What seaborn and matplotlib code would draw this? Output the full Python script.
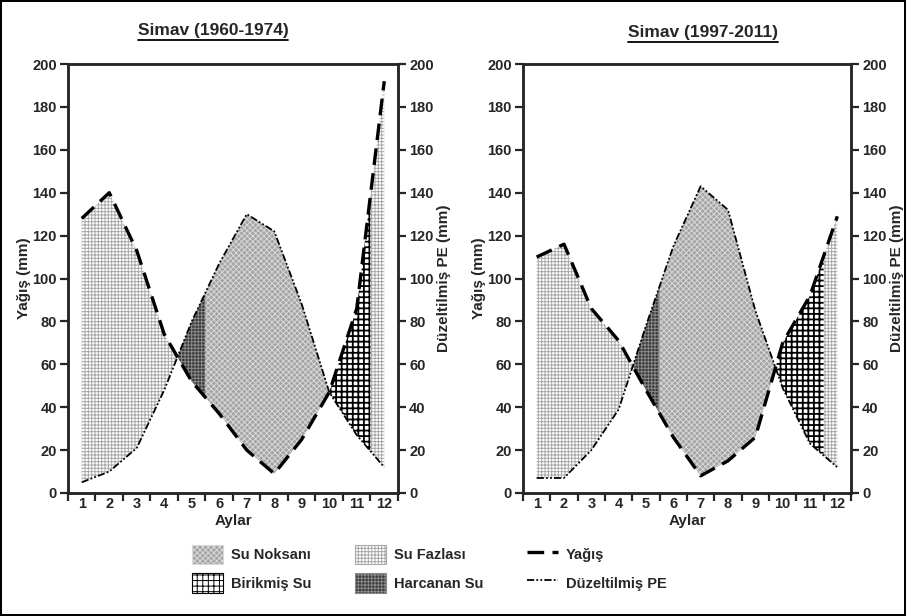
import numpy as np
import pandas as pd
import matplotlib.pyplot as plt
import seaborn as sns
from matplotlib.patches import Patch
from matplotlib.lines import Line2D

months = list(range(1, 13))

# Simav (1960-1974)
p_old = [128, 140, 113, 74, 52, 37, 20, 9, 25, 47, 86, 192]
pe_old = [5, 10, 21, 48, 80, 107, 130, 122, 88, 47, 27, 12]

# Simav (1997-2011)
p_new = [110, 116, 86, 71, 48, 26, 8, 15, 26, 70, 92, 129]
pe_new = [7, 7, 20, 39, 78, 115, 143, 132, 85, 49, 23, 12]

# kullanilan suyun bittigi ay / birikmenin bittigi ay
harcanan_end = 5.5
birikmis_end = 11.5

sns.set_style("ticks")
plt.rcParams['font.family'] = ['Liberation Sans', 'DejaVu Sans']
plt.rcParams['font.weight'] = 'bold'
plt.rcParams['hatch.linewidth'] = 0.7

styles = {
    'Su Noksanı': dict(facecolor='#a4a4a4', edgecolor='#d8d8d8', hatch='xxxxxx'),
    'Su Fazlası': dict(facecolor='white', edgecolor='#a8a8a8', hatch='+++++'),
    'Birikmiş Su': dict(facecolor='white', edgecolor='black', hatch='+++'),
    'Harcanan Su': dict(facecolor='#3a3a3a', edgecolor='#8a8a8a', hatch='+++++'),
}
hatch_lw = {'Birikmiş Su': 1.3}
dash_p = (0, (5, 2.5))
dash_pe = (0, (4, 1.2, 1, 1.2, 1, 1.2))


def draw_panel(ax, p, pe):
    x = np.round(np.linspace(1, 12, 1101), 2)
    pi = np.interp(x, months, p)
    pei = np.interp(x, months, pe)
    wet = pi >= pei
    first_dry = x[np.argmax(~wet)]
    fazla = wet & ((x <= first_dry) | (x >= birikmis_end))
    birik = wet & (x > first_dry) & (x <= birikmis_end)
    harc = ~wet & (x <= harcanan_end)
    noks = ~wet & (x >= harcanan_end)

    for name, mask in [('Su Fazlası', fazla), ('Birikmiş Su', birik),
                       ('Harcanan Su', harc), ('Su Noksanı', noks)]:
        with plt.rc_context({'hatch.linewidth': hatch_lw.get(name, 0.7)}):
            ax.fill_between(x, pi, pei, where=mask, interpolate=True,
                            linewidth=0, **styles[name])

    df = pd.DataFrame({'Ay': months, 'Yağış': p, 'PE': pe})
    sns.lineplot(data=df, x='Ay', y='Yağış', ax=ax, color='black',
                 linewidth=2.4, linestyle=dash_p)
    sns.lineplot(data=df, x='Ay', y='PE', ax=ax, color='black',
                 linewidth=1.3, linestyle=dash_pe)

    ax.set_xlim(0.5, 12.5)
    ax.set_ylim(0, 200)
    ax.set_yticks(range(0, 201, 20))
    ax.set_xticks(np.arange(0.5, 12.6, 1))
    ax.set_xticklabels([])
    ax.set_xticks(months, minor=True)
    ax.set_xticklabels([str(m) for m in months], minor=True)
    ax.tick_params(axis='x', which='minor', length=0, labelsize=10.5, pad=3)
    ax.tick_params(axis='x', which='major', length=6, width=1.6, direction='out')
    ax.tick_params(axis='y', length=6, width=1.6, labelsize=10.5, pad=2)
    for s in ax.spines.values():
        s.set_linewidth(1.8)
    ax.set_xlabel('Aylar', fontsize=11, fontweight='bold', labelpad=2)
    ax.set_ylabel('Yağış (mm)', fontsize=11, fontweight='bold', labelpad=1)

    ax2 = ax.twinx()
    ax2.set_ylim(0, 200)
    ax2.set_yticks(range(0, 201, 20))
    ax2.tick_params(axis='y', length=6, width=1.6, labelsize=10.5, pad=2)
    for s in ax2.spines.values():
        s.set_linewidth(1.8)
    ax2.set_ylabel('Düzeltilmiş PE (mm)', fontsize=11, fontweight='bold',
                   rotation=90, labelpad=2)


fig = plt.figure(figsize=(9.06, 6.16), dpi=100)
ax_l = fig.add_axes([68 / 906, 1 - 493 / 616, 330 / 906, 429 / 616])
ax_r = fig.add_axes([523 / 906, 1 - 493 / 616, 328 / 906, 429 / 616])
draw_panel(ax_l, p_old, pe_old)
draw_panel(ax_r, p_new, pe_new)

t1 = fig.text(213 / 906, 1 - 31 / 616, 'Simav (1960-1974)', ha='center', va='center',
              fontsize=12.5, fontweight='bold')
t2 = fig.text(703 / 906, 1 - 33 / 616, 'Simav (1997-2011)', ha='center', va='center',
              fontsize=12.5, fontweight='bold')

handles = [
    Patch(label='Su Noksanı', linewidth=0.8, **styles['Su Noksanı']),
    Patch(label='Birikmiş Su', linewidth=0.8, **styles['Birikmiş Su']),
    Patch(label='Su Fazlası', linewidth=0.8, **styles['Su Fazlası']),
    Patch(label='Harcanan Su', linewidth=0.8, **styles['Harcanan Su']),
    Line2D([], [], color='black', linewidth=2.4, linestyle=dash_p, label='Yağış'),
    Line2D([], [], color='black', linewidth=1.3, linestyle=dash_pe, label='Düzeltilmiş PE'),
]
fig.legend(handles=handles, ncol=3, loc='center', bbox_to_anchor=(0.474, 0.077),
           frameon=False, fontsize=10.5, handlelength=2.1, handleheight=1.7,
           columnspacing=3.0, labelspacing=0.6, handletextpad=0.55)

# baslik alti cizgi
fig.canvas.draw()
r = fig.canvas.get_renderer()
for t in (t1, t2):
    bb = t.get_window_extent(r).transformed(fig.transFigure.inverted())
    fig.add_artist(Line2D([bb.x0, bb.x1], [bb.y0 - 0.002, bb.y0 - 0.002],
                          color='black', linewidth=1.3, transform=fig.transFigure))

fig.patch.set_edgecolor('black')
fig.patch.set_linewidth(1.5)
fig.savefig('out.png', dpi=100, edgecolor=fig.get_edgecolor())
